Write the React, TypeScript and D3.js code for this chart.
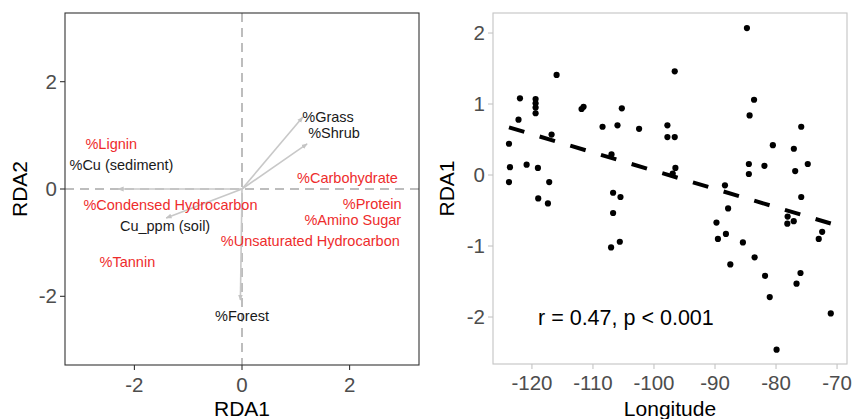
import * as d3 from 'd3';
import React from 'react';

// RDA biplot (left) and RDA1 vs longitude (right)

// --- left panel: environmental arrows ---
const arrowNames = ['%Grass', '%Shrub', '%Cu (sediment)', 'Cu_ppm (soil)', '%Forest'];
const arrowX = [1.13, 1.21, -2.3, -1.41, -0.03];
const arrowY = [1.34, 0.84, 0.0, -0.54, -2.07];

// --- left panel: labels ---
const labelNames = ['%Grass', '%Shrub', '%Lignin', '%Cu (sediment)', '%Carbohydrate',
  '%Condensed Hydrocarbon', '%Protein', '%Amino Sugar', 'Cu_ppm (soil)',
  '%Unsaturated Hydrocarbon', '%Tannin', '%Forest'];
const labelX = [1.6, 1.71, -2.43, -2.24, 1.96, -1.33, 2.42, 2.06, -1.43, 1.27, -2.13, 0.0];
const labelY = [1.34, 1.04, 0.84, 0.45, 0.2, -0.3, -0.27, -0.57, -0.69, -0.97, -1.36, -2.36];
const labelIsCompound = [false, false, true, false, true, true, true, true, false, true, true, false];

const rdaTicks = [-2, 0, 2];

// --- right panel: sites ---
const longitude = [-115.96, -121.96, -119.4, -119.4, -119.4, -119.4, -122.2, -111.87, -111.54,
  -105.27, -108.43, -105.98, -102.44, -97.8, -97.8, -96.6, -96.6, -96.49, -96.93, -116.78,
  -123.76, -123.6, -120.87, -119.02, -123.76, -117.17, -106.96, -118.97, -117.38, -106.7,
  -105.49, -106.7, -107.03, -105.6, -84.77, -83.6, -84.33, -75.87, -80.52, -77.08, -84.45,
  -81.9, -74.8, -84.45, -76.86, -88.37, -75.87, -87.85, -89.76, -89.52, -88.21, -85.43,
  -87.49, -83.51, -81.8, -81.03, -79.91, -78.1, -78.15, -77.1, -72.44, -73.0, -75.99,
  -76.64, -71.03];
const rda1 = [1.41, 1.08, 1.07, 1.01, 0.95, 0.87, 0.78, 0.93, 0.96,
  0.94, 0.68, 0.7, 0.65, 0.7, 0.535, 0.535, 1.46, 0.1, 0.02, 0.57,
  0.44, 0.11, 0.145, 0.1, -0.1, -0.1, 0.29, -0.33, -0.4, -0.25,
  -0.31, -0.535, -1.02, -0.94, 2.07, 1.06, 0.84, 0.68, 0.42, 0.37, 0.155,
  0.13, 0.155, 0.014, 0.056, -0.145, -0.31, -0.47, -0.67, -0.9, -0.83, -0.95,
  -1.26, -1.16, -1.42, -1.72, -2.46, -0.585, -0.685, -0.65, -0.8, -0.9, -1.38,
  -1.53, -1.95];

const fitIntercept = -2.509;
const fitSlope = -0.0257;
const lonTicks = [-120, -110, -100, -90, -80, -70];
const rdaTicksRight = [-2, -1, 0, 1, 2];

const FONT = '"Liberation Sans", Arial, sans-serif';
const RED = '#ee2c2c';
const TICK_SIZE = 20.5;
const TITLE_SIZE = 21;

function Biplot() {
  const box = { left: 65, right: 419, top: 13, bottom: 365 };
  const x = d3.scaleLinear().domain([-3.29, 3.29]).range([box.left, box.right]);
  const y = d3.scaleLinear().domain([-3.28, 3.28]).range([box.bottom, box.top]);

  return (
    <g>
      <defs>
        <marker id="arrowHead" viewBox="0 0 10 10" refX="9" refY="5" markerWidth="6" markerHeight="6"
          orient="auto" markerUnits="userSpaceOnUse">
          <path d="M0,1 L10,5 L0,9 z" fill="#c4c4c4" />
        </marker>
      </defs>
      <line x1={x(0)} x2={x(0)} y1={box.top} y2={box.bottom} stroke="#a8a8a8" strokeWidth={1.5} strokeDasharray="9,6" />
      <line x1={box.left} x2={box.right} y1={y(0)} y2={y(0)} stroke="#a8a8a8" strokeWidth={1.5} strokeDasharray="9,6" />
      {arrowNames.map((n, i) => (
        <line key={n} x1={x(0)} y1={y(0)} x2={x(arrowX[i])} y2={y(arrowY[i])}
          stroke="#c8c8c8" strokeWidth={1.6} markerEnd="url(#arrowHead)" />
      ))}
      {labelNames.map((n, i) => (
        <text key={n} x={x(labelX[i])} y={y(labelY[i])} dy="0.35em" textAnchor="middle"
          fontSize={14.5} fontFamily={FONT} fill={labelIsCompound[i] ? RED : '#1a1a1a'}>{n}</text>
      ))}
      <rect x={box.left} y={box.top} width={box.right - box.left} height={box.bottom - box.top}
        fill="none" stroke="#333" strokeWidth={1.1} />
      {rdaTicks.map(t => (
        <g key={'y' + t}>
          <line x1={box.left - 5} x2={box.left} y1={y(t)} y2={y(t)} stroke="#333" strokeWidth={1.1} />
          <text x={box.left - 8} y={y(t)} dy="0.35em" textAnchor="end" fontSize={TICK_SIZE}
            fontFamily={FONT} fill="#4d4d4d">{t}</text>
        </g>
      ))}
      {rdaTicks.map(t => (
        <g key={'x' + t}>
          <line x1={x(t)} x2={x(t)} y1={box.bottom} y2={box.bottom + 5} stroke="#333" strokeWidth={1.1} />
          <text x={x(t)} y={box.bottom + 27} textAnchor="middle" fontSize={TICK_SIZE}
            fontFamily={FONT} fill="#4d4d4d">{t}</text>
        </g>
      ))}
      <text x={x(0)} y={416} textAnchor="middle" fontSize={TITLE_SIZE} fontFamily={FONT} fill="#000">RDA1</text>
      <text transform={`translate(27,${(box.top + box.bottom) / 2}) rotate(-90)`} textAnchor="middle"
        fontSize={TITLE_SIZE} fontFamily={FONT} fill="#000">RDA2</text>
    </g>
  );
}

function Scatter() {
  const box = { left: 493, right: 847, top: 13, bottom: 364 };
  const x = d3.scaleLinear().domain([-126.38, -68.37]).range([box.left, box.right]);
  const y = d3.scaleLinear().domain([-2.662, 2.282]).range([box.bottom, box.top]);
  const lonMin = d3.min(longitude) as number;
  const lonMax = d3.max(longitude) as number;
  const fit = d3.line<number>().x(d => x(d)).y(d => y(fitIntercept + fitSlope * d));

  return (
    <g>
      {longitude.map((lon, i) => (
        <circle key={i} cx={x(lon)} cy={y(rda1[i])} r={3.1} fill="#000" />
      ))}
      <path d={fit([lonMin, lonMax]) || ''} fill="none" stroke="#000" strokeWidth={4}
        strokeDasharray="16,16" />
      <text x={x(-119.0)} y={y(-2)} dy="0.35em" fontSize={21.5} fontFamily={FONT} fill="#000">
        r = 0.47, p &lt; 0.001
      </text>
      <rect x={box.left} y={box.top} width={box.right - box.left} height={box.bottom - box.top}
        fill="none" stroke="#c4c4c4" strokeWidth={1.1} />
      {rdaTicksRight.map(t => (
        <g key={'y' + t}>
          <line x1={box.left - 5} x2={box.left} y1={y(t)} y2={y(t)} stroke="#c4c4c4" strokeWidth={1.1} />
          <text x={box.left - 8} y={y(t)} dy="0.35em" textAnchor="end" fontSize={TICK_SIZE}
            fontFamily={FONT} fill="#4d4d4d">{t}</text>
        </g>
      ))}
      {lonTicks.map(t => (
        <g key={'x' + t}>
          <line x1={x(t)} x2={x(t)} y1={box.bottom} y2={box.bottom + 5} stroke="#c4c4c4" strokeWidth={1.1} />
          <text x={x(t)} y={box.bottom + 26} textAnchor="middle" fontSize={TICK_SIZE}
            fontFamily={FONT} fill="#4d4d4d">{t}</text>
        </g>
      ))}
      <text x={(box.left + box.right) / 2} y={416} textAnchor="middle" fontSize={TITLE_SIZE} fontFamily={FONT} fill="#000">Longitude</text>
      <text transform={`translate(454,${(box.top + box.bottom) / 2}) rotate(-90)`} textAnchor="middle"
        fontSize={TITLE_SIZE} fontFamily={FONT} fill="#000">RDA1</text>
    </g>
  );
}

export default function App() {
  return (
    <svg width={854} height={419} style={{ position: 'absolute', left: 0, top: 0, background: '#fff' }}>
      <rect width={854} height={419} fill="#fff" />
      <Biplot />
      <Scatter />
    </svg>
  );
}
